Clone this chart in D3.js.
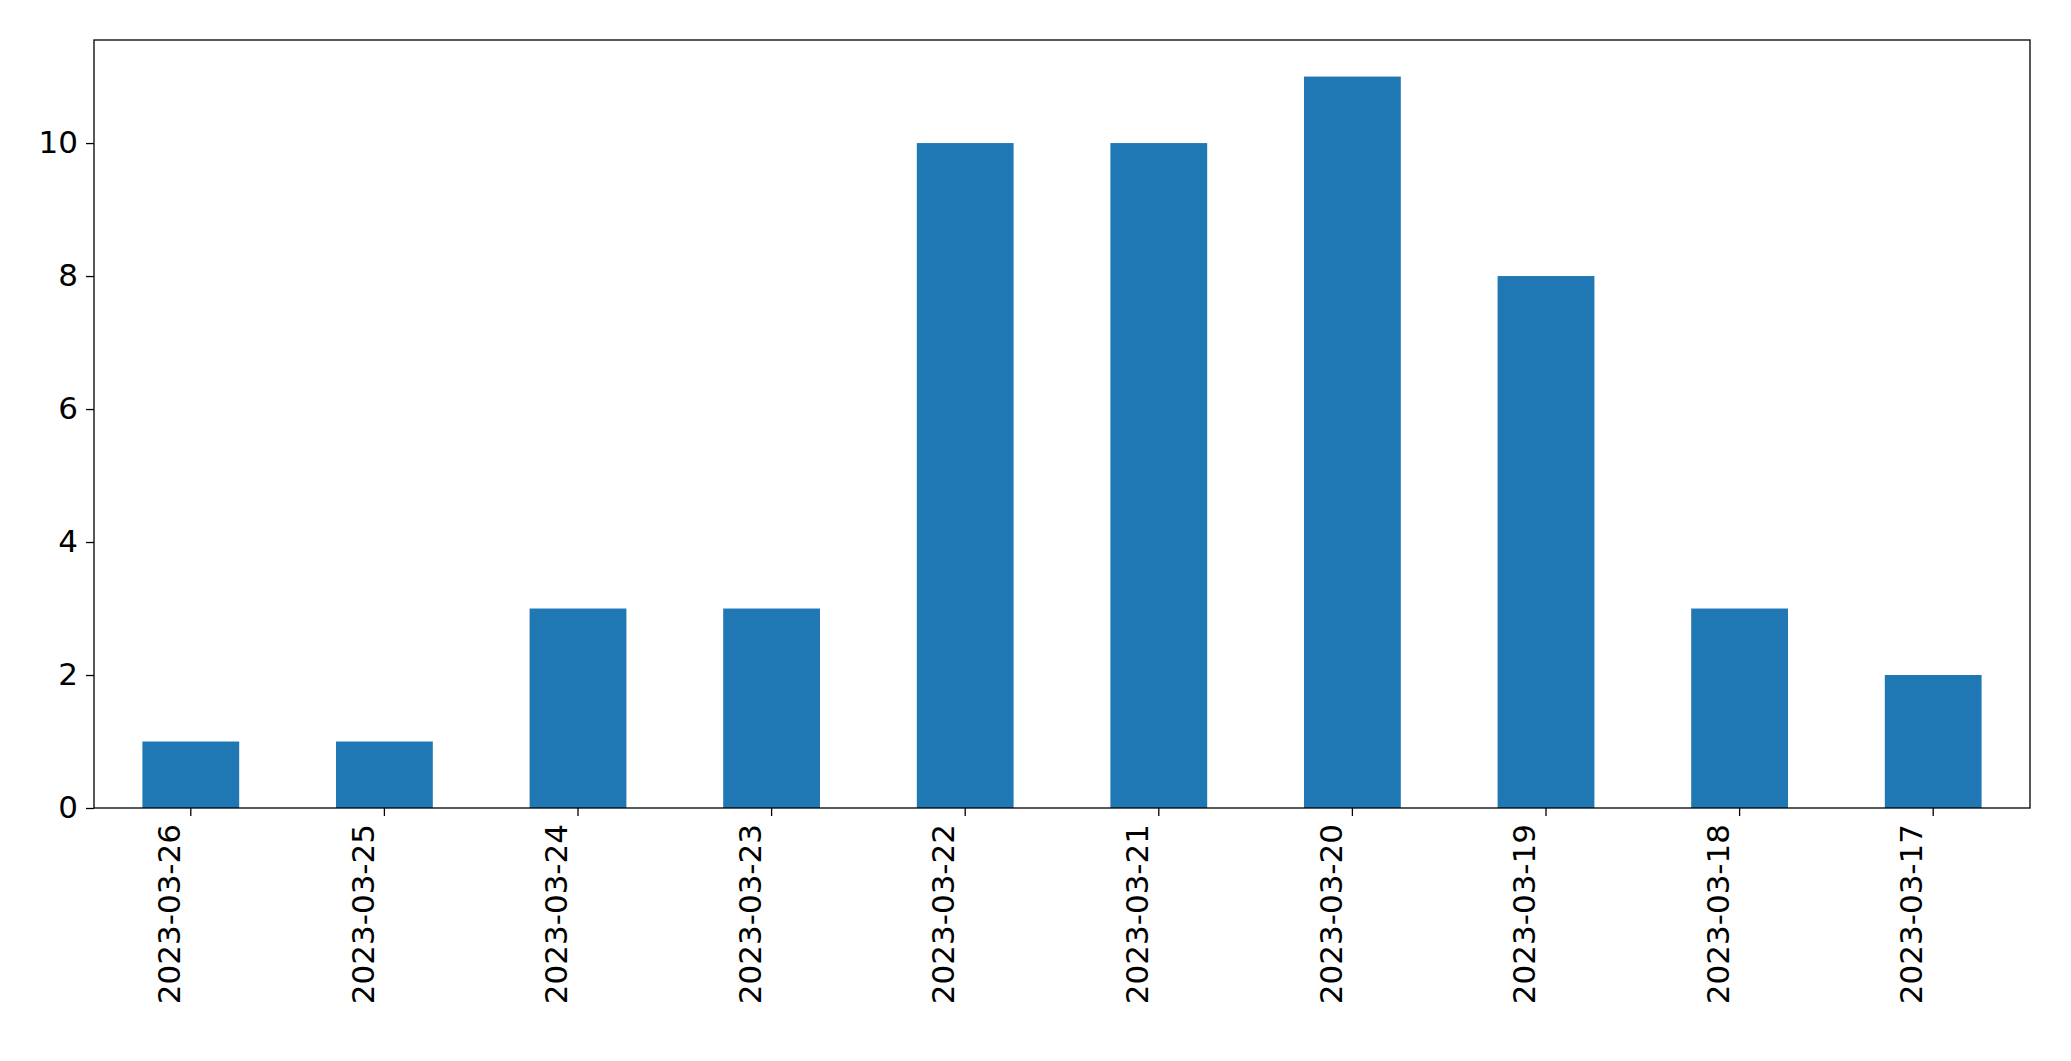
<!DOCTYPE html>
<html><head><meta charset="utf-8">
<script src="https://cdn.jsdelivr.net/npm/d3@7"></script>
<style>body{margin:0;background:#fff}svg{display:block}text{font-family:"DejaVu Sans",sans-serif}</style>
</head><body>
<script>
const categories=["2023-03-26","2023-03-25","2023-03-24","2023-03-23","2023-03-22","2023-03-21","2023-03-20","2023-03-19","2023-03-18","2023-03-17"];
const values=[1,1,3,3,10,10,11,8,3,2];
const yTicks=[0,2,4,6,8,10];
const W=2071,H=1061,L=94,R=2030,T=40,B=808;
const svg=d3.select("body").append("svg").attr("width",W).attr("height",H);
const x=d3.scaleBand().domain(categories).range([L,R]).paddingInner(0.5).paddingOuter(0.25);
const y=d3.scaleLinear().domain([0,11.55]).range([B,T]);
svg.selectAll("rect.bar").data(values).enter().append("rect").attr("class","bar")
 .attr("x",(d,i)=>x(categories[i])).attr("width",x.bandwidth())
 .attr("y",d=>y(d)).attr("height",d=>y(0)-y(d)).attr("fill","#1f77b4");
const fs="31px";
const ya=svg.append("g").attr("transform",`translate(${L},0)`).call(d3.axisLeft(y).tickValues(yTicks).tickSize(8).tickPadding(8));
ya.selectAll("text").style("font-size",fs).attr("fill","#000");
ya.select(".domain").remove();
const xa=svg.append("g").attr("transform",`translate(0,${B})`).call(d3.axisBottom(x).tickSize(8).tickPadding(8));
xa.selectAll("text").style("font-size",fs).attr("fill","#000")
 .attr("transform","rotate(-90)").attr("text-anchor","end").attr("dx","-16").attr("dy","-0.35em").attr("y",0).attr("x",0);
xa.select(".domain").remove();
svg.selectAll(".tick line").attr("stroke","#000").attr("stroke-width",1.3);
svg.append("rect").attr("x",L).attr("y",T).attr("width",R-L).attr("height",B-T).attr("fill","none").attr("stroke","#000").attr("stroke-width",1.3);
</script>
</body></html>
